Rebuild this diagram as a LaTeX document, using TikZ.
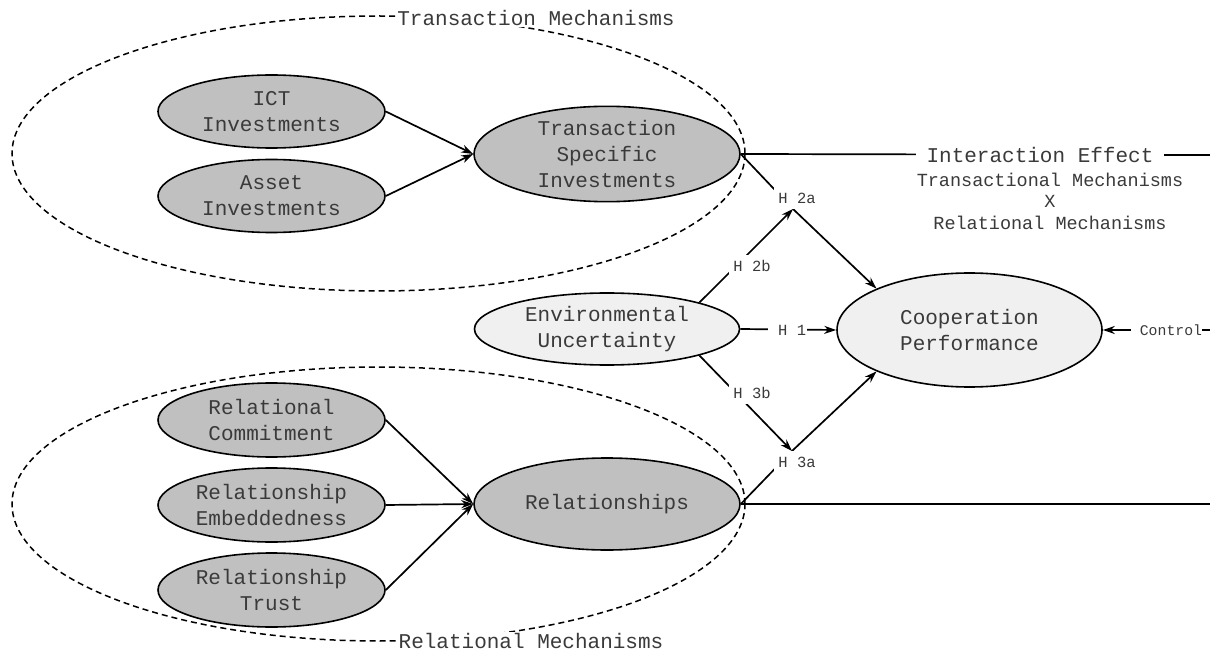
\documentclass[tikz,border=0pt]{standalone}
\usepackage{fontspec}
\setmainfont{Liberation Mono}
\usetikzlibrary{shapes.geometric,arrows.meta}
\definecolor{fillgray}{HTML}{C0C0C0}
\definecolor{filllight}{HTML}{F0F0F0}
\definecolor{txt}{HTML}{3A3A3A}
\begin{document}
\begin{tikzpicture}[x=1pt,y=-1pt,
  every node/.style={text=txt},
  bigfont/.style={font=\fontsize{21}{26}\selectfont},
  midfont/.style={font=\fontsize{18.5}{21.5}\selectfont},
  smallfont/.style={font=\fontsize{15.5}{18}\selectfont},
  darkell/.style={ellipse, draw, line width=1.6pt, fill=fillgray, inner sep=0pt, align=center, bigfont},
  lightell/.style={ellipse, draw, line width=1.6pt, fill=filllight, inner sep=0pt, align=center, bigfont},
  groupell/.style={ellipse, draw, dash pattern=on 6pt off 4pt, line width=1.5pt, inner sep=0pt},
  grouplabel/.style={fill=white, inner sep=1pt, bigfont},
  hlabel/.style={fill=white, inner xsep=4.5pt, inner ysep=0pt, minimum height=22pt, smallfont},
  plain/.style={line width=1.7pt},
  conn/.style={line width=1.7pt, -{Stealth[length=12pt,width=8pt]}}
]
\useasboundingbox (0,0) rectangle (1210,652);

% group ellipses
\node[groupell, minimum width=733pt, minimum height=275pt] (tmgroup) at (378.5,153.5) {};
\node[groupell, minimum width=733pt, minimum height=274pt] (rmgroup) at (378.5,504) {};

% construct ellipses
\node[darkell, minimum width=227pt, minimum height=73pt] (ict) at (271.5,111.5) {ICT\\Investments};
\node[darkell, minimum width=227pt, minimum height=73pt] (asset) at (271.5,196) {Asset\\Investments};
\node[darkell, minimum width=266pt, minimum height=92pt] (tsi) at (607,154) {Transaction\\Specific\\Investments};
\node[lightell, minimum width=265pt, minimum height=72pt] (eu) at (607,329) {Environmental\\Uncertainty};
\node[lightell, minimum width=265pt, minimum height=114pt] (cp) at (969.5,330) {Cooperation\\Performance};
\node[darkell, minimum width=227pt, minimum height=74pt] (rc) at (271.5,420) {Relational\\Commitment};
\node[darkell, minimum width=227pt, minimum height=74pt] (re) at (271.5,505) {Relationship\\Embeddedness};
\node[darkell, minimum width=227pt, minimum height=74pt] (rt) at (271.5,590) {Relationship\\Trust};
\node[darkell, minimum width=266pt, minimum height=92pt] (rel) at (607,504) {Relationships};

% coordinates
\coordinate (p2) at (793,209);
\coordinate (p3) at (792,451);
\coordinate (ieend) at (1210,155);
\coordinate (relend) at (1210,504);
\coordinate (ctrlend) at (1210,330);

% connectors
\draw[conn] (ict.east) -- (tsi.west);
\draw[conn] (asset.east) -- (tsi.west);
\draw[conn] (rc.east) -- (rel.west);
\draw[conn] (re.east) -- (rel.west);
\draw[conn] (rt.east) -- (rel.west);

\draw[plain] (tsi.east) -- (ieend);
\draw[plain] (tsi.east) -- (p2);
\draw[conn] (eu.16) -- (p2);
\draw[conn] (p2) -- (cp.156);
\draw[conn] (eu.east) -- (cp.west);
\draw[conn] (eu.-16) -- (p3);
\draw[conn] (p3) -- (cp.204);
\draw[plain] (rel.east) -- (p3);
\draw[plain] (rel.east) -- (relend);
\draw[conn] (ctrlend) -- (cp.east);

% labels
\node[grouplabel] (tmlabel) at (536,18) {Transaction Mechanisms};
\node[grouplabel] (rmlabel) at (531,641) {Relational Mechanisms};
\node[fill=white, inner xsep=10.5pt, inner ysep=2pt, bigfont] (ie) at (1040,155) {Interaction Effect};
\node[midfont, align=center] (iedesc) at (1050,201) {Transactional Mechanisms\\X\\Relational Mechanisms};
\node[hlabel] (h2a) at (797,198) {H 2a};
\node[hlabel] (h2b) at (752,266) {H 2b};
\node[hlabel, inner xsep=1pt] (h1) at (787.5,330) {~H 1};
\node[hlabel] (h3b) at (752,393) {H 3b};
\node[hlabel] (h3a) at (797,462) {H 3a};
\node[fill=white, inner xsep=0pt, inner ysep=2pt, font=\fontsize{14.8}{17}\selectfont] (ctrl) at (1166.5,330) {~Control};
\end{tikzpicture}
\end{document}
